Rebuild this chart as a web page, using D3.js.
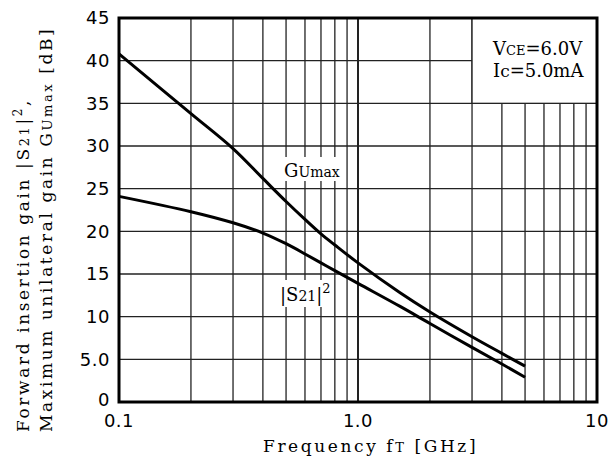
<!DOCTYPE html>
<html><head><meta charset="utf-8">
<script src="https://cdn.jsdelivr.net/npm/d3@7"></script>
<style>body{margin:0;background:#fff}svg{display:block}</style>
</head><body>
<svg id="c" width="610" height="459"></svg>
<script>
const gumaxFreq = [0.1, 0.2, 0.3, 0.4, 0.5, 0.6, 0.7, 0.8, 1.0, 1.5, 2.0, 3.0, 4.0, 5.0];
const gumaxVals = [40.8, 33.8, 29.7, 26.2, 23.5, 21.4, 19.7, 18.4, 16.3, 12.8, 10.55, 7.65, 5.7, 4.2];
const s21Freq = [0.1, 0.2, 0.3, 0.4, 0.5, 0.6, 0.7, 0.8, 1.0, 1.5, 2.0, 3.0, 4.0, 5.0];
const s21Vals = [24.1, 22.3, 21.0, 19.8, 18.55, 17.35, 16.3, 15.4, 13.9, 11.2, 9.2, 6.4, 4.45, 2.9];
const yTicks = [0, 5, 10, 15, 20, 25, 30, 35, 40, 45];
const yTickLabels = ["0", "5.0", "10", "15", "20", "25", "30", "35", "40", "45"];
const xTicks = [0.1, 1, 10];
const xTickLabels = ["0.1", "1.0", "10"];

const svg = d3.select("#c");
const L = 119, R = 597, T = 18, B = 402;
const x = d3.scaleLog().domain([0.1, 10]).range([L, R]);
const y = d3.scaleLinear().domain([0, 45]).range([B, T]);

// grid
const g = svg.append("g");
g.selectAll("line.v").data(x.ticks()).enter().append("line")
  .attr("x1", d => x(d)).attr("x2", d => x(d)).attr("y1", T).attr("y2", B)
  .attr("stroke", "#222").attr("stroke-width", d => Math.abs(d - 1) < 1e-9 ? 2 : 1.3);
g.selectAll("line.h").data(yTicks).enter().append("line")
  .attr("x1", L).attr("x2", R).attr("y1", d => y(d)).attr("y2", d => y(d))
  .attr("stroke", "#222").attr("stroke-width", 1.3);

// legend box (white background over grid)
svg.append("rect").attr("x", x(3)).attr("y", T).attr("width", R - x(3)).attr("height", y(35) - T)
  .attr("fill", "#fff").attr("stroke", "#222").attr("stroke-width", 1.3);

// curves
const line = d3.line().x(d => x(d[0])).y(d => y(d[1])).curve(d3.curveCatmullRom.alpha(0.5));
svg.append("path").datum(gumaxFreq.map((f, i) => [f, gumaxVals[i]]))
  .attr("d", line).attr("fill", "none").attr("stroke", "#000").attr("stroke-width", 3);
svg.append("path").datum(s21Freq.map((f, i) => [f, s21Vals[i]]))
  .attr("d", line).attr("fill", "none").attr("stroke", "#000").attr("stroke-width", 3);

// frame
svg.append("rect").attr("x", L).attr("y", T).attr("width", R - L).attr("height", B - T)
  .attr("fill", "none").attr("stroke", "#000").attr("stroke-width", 3);

const serif = "'DejaVu Serif', serif";
function richLabel(xp, yp, parts, size) {
  const t = svg.append("text").attr("x", xp).attr("y", yp).attr("font-family", serif)
    .attr("font-size", size).attr("fill", "#000");
  parts.forEach(p => {
    const ts = t.append("tspan").text(p.t).attr("font-size", p.s || size);
    if (p.dy) ts.attr("dy", p.dy);
  });
  return t;
}
function bg(x0, y0, w, h) {
  svg.append("rect").attr("x", x0).attr("y", y0).attr("width", w).attr("height", h).attr("fill", "#fff");
}
bg(282, 157, 64, 24);
richLabel(284, 177, [{t: "G"}, {t: "Umax", s: 14}], 18);
bg(278, 280, 56, 27);
richLabel(280, 301, [{t: "|S"}, {t: "21", s: 14}, {t: "|"}, {t: "2", s: 13, dy: -8}], 18);

// legend text
richLabel(493, 55, [{t: "V"}, {t: "CE", s: 13}, {t: "=6.0V"}], 18);
richLabel(493, 77, [{t: "I"}, {t: "c", s: 17}, {t: "=5.0mA"}], 18);

// tick labels
const sans = "'DejaVu Sans', sans-serif";
svg.append("g").selectAll("text").data(yTicks).enter().append("text")
  .attr("x", 110).attr("y", d => y(d) - (d === 0 ? 2 : 0)).attr("dy", "0.36em").attr("text-anchor", "end")
  .attr("font-family", sans).attr("font-size", 18).attr("letter-spacing", 0.5)
  .text((d, i) => yTickLabels[i]);
svg.append("g").selectAll("text").data(xTicks).enter().append("text")
  .attr("x", d => x(d)).attr("y", 427).attr("text-anchor", "middle")
  .attr("font-family", sans).attr("font-size", 18).attr("letter-spacing", 0.5)
  .text((d, i) => xTickLabels[i]);

// axis titles
richLabel(263, 452, [{t: "Frequency f"}, {t: "T", s: 13}, {t: " [GHz]"}], 17).attr("letter-spacing", 2.6);
const yt1 = svg.append("text").attr("transform", "translate(29,432) rotate(-90)")
  .attr("font-family", serif).attr("font-size", 17).attr("letter-spacing", 2.6);
yt1.append("tspan").text("Forward insertion gain |S");
yt1.append("tspan").text("21").attr("font-size", 13);
yt1.append("tspan").text("|");
yt1.append("tspan").text("2").attr("font-size", 12).attr("dy", -7);
yt1.append("tspan").text(",").attr("dy", 7);
const yt2 = svg.append("text").attr("transform", "translate(52,432) rotate(-90)")
  .attr("font-family", serif).attr("font-size", 17).attr("letter-spacing", 2.6);
yt2.append("tspan").text("Maximum unilateral gain G");
yt2.append("tspan").text("Umax").attr("font-size", 13);
yt2.append("tspan").text(" [dB]");
</script>
</body></html>
